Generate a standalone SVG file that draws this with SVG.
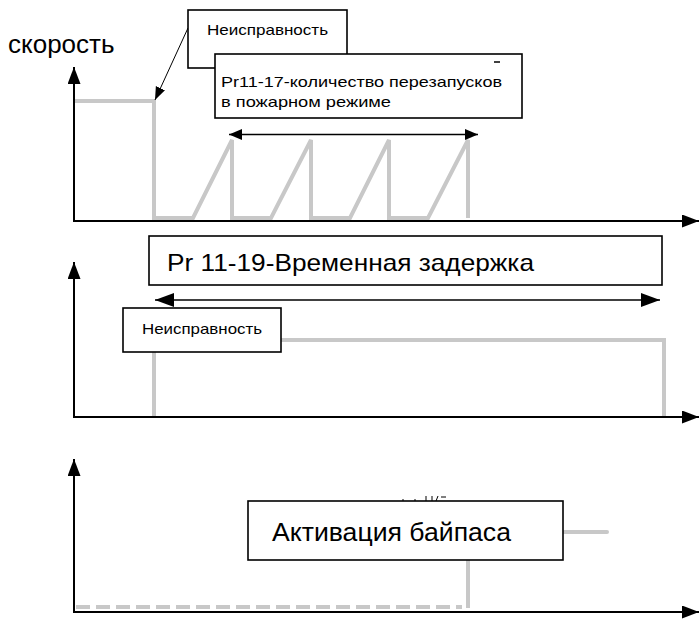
<svg xmlns="http://www.w3.org/2000/svg" width="699" height="619" viewBox="0 0 699 619">
<style>
text{font-family:"Liberation Sans",Arial,sans-serif;fill:#000}
.ax{stroke:#000;stroke-width:2;fill:none}
.sig{stroke:#c8c8c8;stroke-width:4;fill:none;stroke-linejoin:miter}
.box{fill:#fff;stroke:#000;stroke-width:1.6}
.dim{stroke:#000;stroke-width:1.6;fill:none}
</style>
<defs>
<marker id="ah" markerUnits="userSpaceOnUse" markerWidth="18" markerHeight="14" refX="17" refY="6.5" orient="auto">
<path d="M0,0 L17,6.5 L0,13 z" fill="#000"/>
</marker>
<marker id="dh1" markerUnits="userSpaceOnUse" markerWidth="14" markerHeight="12" refX="13" refY="5.5" orient="auto-start-reverse">
<path d="M0,0 L13,5.5 L0,11 z" fill="#000"/>
</marker>
<marker id="dh2" markerUnits="userSpaceOnUse" markerWidth="20" markerHeight="15" refX="19" refY="7" orient="auto-start-reverse">
<path d="M0,0 L19,7 L0,14 z" fill="#000"/>
</marker>
<marker id="sh" markerUnits="userSpaceOnUse" markerWidth="14" markerHeight="11" refX="13" refY="5" orient="auto">
<path d="M0,0 L13,5 L0,10 z" fill="#000"/>
</marker>
</defs>

<text x="8" y="53" font-size="26">скорость</text>

<g id="signals">
<polyline class="sig" points="75,101 154,101 154,218 193,218 232,140 232,218 271,218 311,140 311,218 350,218 389,140 389,218 428,218 468,140 468,218"/>
<polyline class="sig" points="154,352 154,417"/>
<polyline class="sig" points="281,340 664,340 664,417"/>
<line class="sig" x1="76" y1="607" x2="462" y2="607" stroke-dasharray="14,6"/>
<line class="sig" x1="468" y1="560" x2="468" y2="608"/>
<line class="sig" x1="564" y1="532" x2="607" y2="532" stroke-linecap="round"/>
</g>

<g id="connectors">
<line class="ax" x1="74" y1="222" x2="74" y2="67" marker-end="url(#ah)"/>
<line class="ax" x1="73" y1="221" x2="699" y2="221" marker-end="url(#ah)"/>
<line class="ax" x1="74" y1="418" x2="74" y2="262" marker-end="url(#ah)"/>
<line class="ax" x1="73" y1="417" x2="699" y2="417" marker-end="url(#ah)"/>
<line class="ax" x1="74" y1="613" x2="74" y2="459" marker-end="url(#ah)"/>
<line class="ax" x1="73" y1="612" x2="699" y2="612" marker-end="url(#ah)"/>
<line class="dim" x1="229" y1="134.5" x2="478" y2="134.5" marker-start="url(#dh1)" marker-end="url(#dh1)"/>
<line class="dim" x1="155" y1="300" x2="660" y2="300" marker-start="url(#dh2)" marker-end="url(#dh2)"/>
<line stroke="#000" stroke-width="1" x1="188" y1="28" x2="155" y2="100" marker-end="url(#sh)"/>
</g>

<g id="fault1">
<rect class="box" x="188" y="10" width="159" height="58"/>
<text x="207" y="35" font-size="15" textLength="121" lengthAdjust="spacingAndGlyphs">Неисправность</text>
</g>

<g id="restarts">
<rect class="box" x="215" y="54" width="307" height="64"/>
<text x="221" y="87" font-size="15" textLength="281" lengthAdjust="spacingAndGlyphs">Pr11-17-количество перезапусков</text>
<text x="221" y="107" font-size="15" textLength="170" lengthAdjust="spacingAndGlyphs">в пожарном режиме</text>
<line stroke="#000" stroke-width="1.5" x1="494" y1="62" x2="500" y2="62"/>
</g>

<g id="delay">
<rect class="box" x="149" y="236" width="513" height="49"/>
<text x="167" y="271" font-size="24" textLength="367" lengthAdjust="spacingAndGlyphs">Pr 11-19-Временная задержка</text>
</g>

<g id="fault2">
<rect class="box" x="123" y="308" width="158" height="44"/>
<text x="142" y="334" font-size="15" textLength="120" lengthAdjust="spacingAndGlyphs">Неисправность</text>
</g>

<g id="bypass">
<g stroke="#000" stroke-width="1">
<line x1="403" y1="499" x2="403" y2="501"/>
<line x1="415" y1="499" x2="415" y2="501"/>
<line x1="426" y1="496" x2="426" y2="501"/>
<line x1="432" y1="496" x2="432" y2="501"/>
<line x1="438" y1="496" x2="436" y2="501"/>
<line x1="441" y1="497" x2="446" y2="497"/>
</g>
<rect class="box" x="248" y="501" width="315" height="59"/>
<text x="272" y="541" font-size="25" textLength="239" lengthAdjust="spacingAndGlyphs">Активация байпаса</text>
</g>
</svg>
